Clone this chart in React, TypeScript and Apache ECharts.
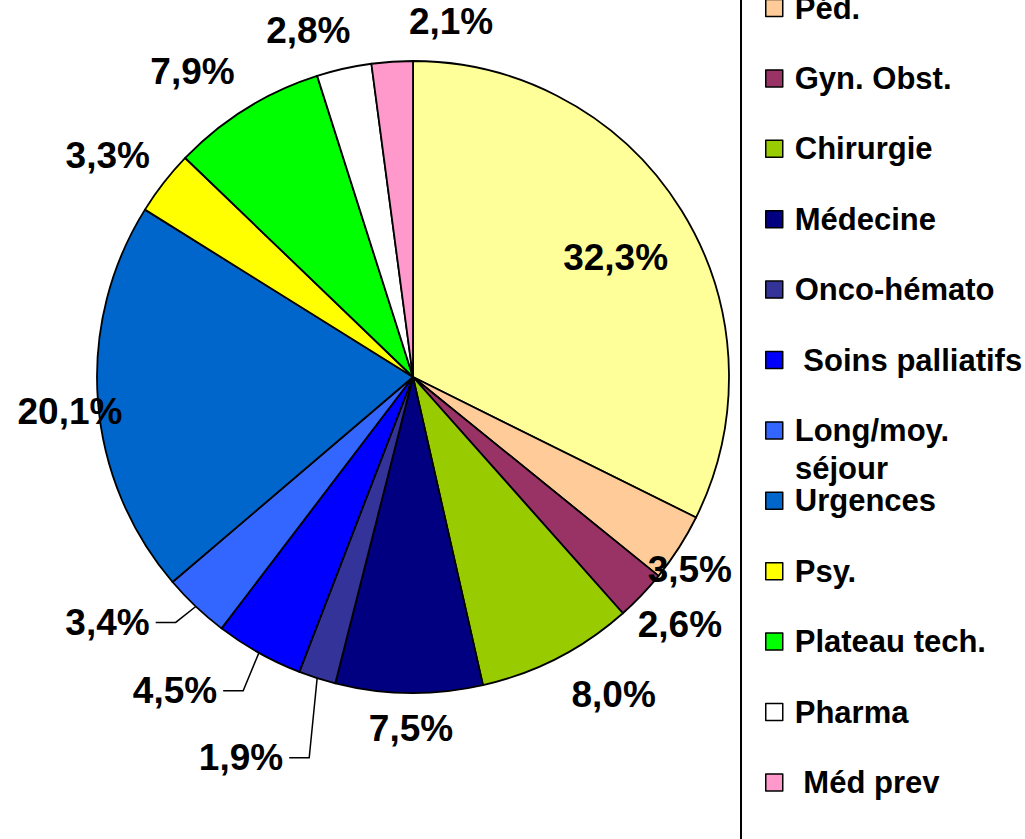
import { useEffect, useRef } from "react";
import * as echarts from "echarts";

const categories = [
  "Autres",
  "Péd.",
  "Gyn. Obst.",
  "Chirurgie",
  "Médecine",
  "Onco-hémato",
  " Soins palliatifs",
  "Long/moy. séjour",
  "Urgences",
  "Psy.",
  "Plateau tech.",
  "Pharma",
  " Méd prev",
];
const values = [32.3, 3.5, 2.6, 8.0, 7.5, 1.9, 4.5, 3.4, 20.1, 3.3, 7.9, 2.8, 2.1];
const colors = [
  "#FFFF99",
  "#FFCC99",
  "#993366",
  "#99CC00",
  "#000080",
  "#333399",
  "#0000FF",
  "#3366FF",
  "#0066CC",
  "#FFFF00",
  "#00FF00",
  "#FFFFFF",
  "#FF99CC",
];
// label placement: [distance as fraction of radius, angle offset in degrees from slice middle]
const labelPlace = [
  [0.745, 1.2],
  [1.067, 2.1],
  [1.153, -0.8],
  [1.188, -5.1],
  [1.112, -0.4],
  [1.322, 6.65],
  [1.246, 8],
  [1.24, 7.8],
  [1.091, -1.5],
  [1.193, -2],
  [1.193, -3.9],
  [1.145, -4.2],
  [1.131, 9.9],
];
const leaderIdx = [5, 6, 7];

const CX = 413;
const CY = 377;
const R = 316;
const FONT = "'Liberation Sans', Arial, Helvetica, sans-serif";

export default function App() {
  const ref = useRef<HTMLDivElement>(null);
  useEffect(() => {
    if (!ref.current) return;
    const chart = echarts.init(ref.current, undefined, { renderer: "svg" });
    const total = values.reduce((a, b) => a + b, 0);
    const mids: number[] = [];
    let acc = 0;
    values.forEach((v) => {
      mids.push(((acc + v / 2) / total) * 360);
      acc += v;
    });
    const polar = (deg: number, d: number) => {
      const a = (deg * Math.PI) / 180;
      return [CX + d * Math.sin(a), CY - d * Math.cos(a)];
    };
    const data = categories.map((name, i) => ({
      name,
      value: values[i],
      itemStyle: { color: colors[i] },
      labelLine: leaderIdx.includes(i)
        ? { show: true, lineStyle: { color: "#000", width: 1.5 } }
        : { show: false },
    }));
    chart.setOption({
      animation: false,
      backgroundColor: "#fff",
      legend: {
        orient: "vertical",
        left: 765,
        top: -9,
        padding: 0,
        itemWidth: 17,
        itemHeight: 17,
        itemGap: 36.4,
        icon: "rect",
        selectedMode: false,
        data: categories.slice(1),
        formatter: (name: string) => (name === "Long/moy. séjour" ? "Long/moy." : name),
        itemStyle: { borderColor: "#000", borderWidth: 1.5 },
        textStyle: {
          fontFamily: FONT,
          fontWeight: "bold",
          fontSize: 31,
          lineHeight: 34,
          color: "#000",
          padding: [0, 0, 0, 7],
        },
      },
      graphic: [
        {
          type: "line",
          shape: { x1: 741, y1: 0, x2: 741, y2: 839 },
          style: { stroke: "#000", lineWidth: 2 },
        },
        {
          type: "text",
          x: 795,
          y: 468,
          style: {
            text: "séjour",
            font: `bold 31px ${FONT}`,
            fill: "#000",
            verticalAlign: "middle",
          },
        },
      ],
      series: [
        {
          type: "pie",
          center: [CX, CY],
          radius: R,
          startAngle: 90,
          clockwise: true,
          avoidLabelOverlap: false,
          emphasis: { disabled: true },
          itemStyle: { borderColor: "#000", borderWidth: 1.8 },
          label: {
            show: true,
            position: "outside",
            formatter: (p: any) => p.value.toFixed(1).replace(".", ",") + "%",
            fontFamily: FONT,
            fontWeight: "bold",
            fontSize: 37,
            color: "#000",
          },
          labelLine: { show: false },
          labelLayout: (params: any) => {
            const i = params.dataIndex;
            const [f, da] = labelPlace[i];
            const [x, y] = polar(mids[i] + da, f * R);
            const out: any = { x, y, align: "center", verticalAlign: "middle" };
            if (leaderIdx.includes(i)) {
              const w = params.labelRect.width;
              const endX = x + w / 2 + 6;
              const edge = polar(mids[i], R);
              out.labelLinePoints = [
                edge,
                [endX + 20, y],
                [endX, y],
              ];
            }
            return out;
          },
          data,
        },
      ],
    });
    return () => chart.dispose();
  }, []);
  return (
    <div
      ref={ref}
      style={{ position: "absolute", left: 0, top: 0, width: 1025, height: 839 }}
    />
  );
}
